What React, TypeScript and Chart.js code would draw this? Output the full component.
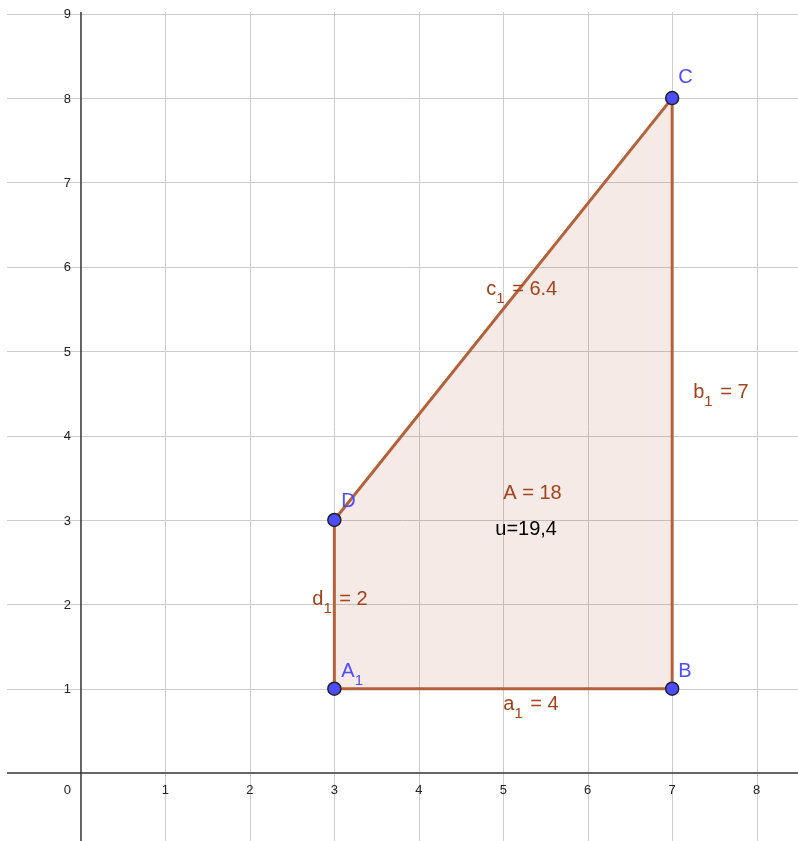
import React, { useEffect, useRef } from 'react';
import { Chart, registerables } from 'chart.js';

Chart.register(...registerables);

// ---- data ----
const pointNames = ['A', 'B', 'C', 'D'];
const pointSubs = ['1', '', '', ''];
const pointX = [3, 7, 7, 3];
const pointY = [1, 1, 8, 3];
const segNames = ['a', 'b', 'c', 'd'];
const segValues = ['4', '7', '6.4', '2'];
const areaText = 'A = 18';
const perimeterText = 'u=19,4';
const xTicks = [0, 1, 2, 3, 4, 5, 6, 7, 8];
const yTicks = [1, 2, 3, 4, 5, 6, 7, 8, 9];

// ---- view / styles ----
const X_MIN = -0.876;
const X_MAX = 8.49;
const Y_MIN = -0.805;
const Y_MAX = 9.02;
const FONT = '"Liberation Sans", Arial, Helvetica, sans-serif';
const BROWN_LINE = '#b5623b';
const BROWN_TEXT = '#a3421b';
const BLUE = '#4d4dff';

// label offsets (pixels) relative to anchors
const pointLabelOffsets: [number, number][] = [[7, -12], [6, -12], [6, -15], [7, -13]];
const segLabelOffsets: [number, number][] = [[0, 21], [21, 5], [-17, -14], [-22, 1]];

type Part = [string, boolean];

function drawRich(ctx: CanvasRenderingContext2D, x: number, y: number, parts: Part[], color: string) {
  let cx = x;
  ctx.fillStyle = color;
  ctx.textAlign = 'left';
  ctx.textBaseline = 'alphabetic';
  for (const [t, sub] of parts) {
    ctx.font = sub ? `15px ${FONT}` : `20px ${FONT}`;
    ctx.fillText(t, cx, sub ? y + 8 : y);
    cx += ctx.measureText(t).width + (sub ? 2 : 0);
  }
}

const geoPlugin = {
  id: 'geoPlugin',
  beforeDatasetsDraw(chart: any) {
    const { ctx, chartArea: ca, scales } = chart;
    const xs = scales.x;
    const ys = scales.y;
    ctx.save();
    ctx.lineWidth = 1;
    ctx.strokeStyle = '#cccccc';
    for (const v of xTicks) {
      if (v === 0) continue;
      const px = Math.round(xs.getPixelForValue(v)) + 0.5;
      ctx.beginPath();
      ctx.moveTo(px, ca.top);
      ctx.lineTo(px, ca.bottom);
      ctx.stroke();
    }
    for (const v of yTicks) {
      const py = Math.round(ys.getPixelForValue(v)) + 0.5;
      ctx.beginPath();
      ctx.moveTo(ca.left, py);
      ctx.lineTo(ca.right, py);
      ctx.stroke();
    }
    // axes
    ctx.strokeStyle = '#333333';
    ctx.lineWidth = 1.5;
    const x0 = xs.getPixelForValue(0);
    const y0 = ys.getPixelForValue(0);
    ctx.beginPath();
    ctx.moveTo(x0, ca.top);
    ctx.lineTo(x0, ca.bottom);
    ctx.stroke();
    ctx.beginPath();
    ctx.moveTo(ca.left, y0);
    ctx.lineTo(ca.right, y0);
    ctx.stroke();

    // tick labels
    ctx.fillStyle = '#222222';
    ctx.font = `13px ${FONT}`;
    ctx.textBaseline = 'middle';
    for (const v of xTicks) {
      if (v === 0) {
        ctx.textAlign = 'right';
        ctx.fillText(String(v), x0 - 10, y0 + 17);
      } else {
        ctx.textAlign = 'center';
        ctx.fillText(String(v), xs.getPixelForValue(v), y0 + 17);
      }
    }
    ctx.textAlign = 'right';
    for (const v of yTicks) {
      ctx.fillText(String(v), x0 - 10, ys.getPixelForValue(v) + 1);
    }
    ctx.restore();
  },
  afterDatasetsDraw(chart: any) {
    const { ctx, scales } = chart;
    const xs = scales.x;
    const ys = scales.y;
    ctx.save();
    // segment labels
    const n = pointX.length;
    for (let i = 0; i < n; i++) {
      const j = (i + 1) % n;
      const mx = xs.getPixelForValue((pointX[i] + pointX[j]) / 2);
      const my = ys.getPixelForValue((pointY[i] + pointY[j]) / 2);
      const [dx, dy] = segLabelOffsets[i];
      drawRich(ctx, mx + dx, my + dy, [[segNames[i], false], ['1', true], [' = ' + segValues[i], false]], BROWN_TEXT);
    }
    // polygon labels
    const ax = xs.getPixelForValue((pointX[0] + pointX[1]) / 2);
    drawRich(ctx, ax, ys.getPixelForValue(3.25), [[areaText, false]], BROWN_TEXT);
    drawRich(ctx, ax - 8, ys.getPixelForValue(2.82), [[perimeterText, false]], '#000000');
    // point labels
    for (let i = 0; i < n; i++) {
      const px = xs.getPixelForValue(pointX[i]);
      const py = ys.getPixelForValue(pointY[i]);
      const [dx, dy] = pointLabelOffsets[i];
      const parts: Part[] = [[pointNames[i], false]];
      if (pointSubs[i]) parts.push([pointSubs[i], true]);
      drawRich(ctx, px + dx, py + dy, parts, BLUE);
    }
    ctx.restore();
  },
};

export default function App() {
  const ref = useRef<HTMLCanvasElement | null>(null);
  useEffect(() => {
    if (!ref.current) return;
    const pts = pointX.map((x, i) => ({ x, y: pointY[i] }));
    const poly = [...pts, pts[0]];
    const chart = new Chart(ref.current, {
      type: 'scatter',
      data: {
        datasets: [
          {
            label: 'points',
            data: pts,
            showLine: false,
            pointRadius: 6.5,
            pointBorderWidth: 1.5,
            pointBackgroundColor: BLUE,
            pointBorderColor: '#222222',
            clip: false,
          } as any,
          {
            label: 'polygon',
            data: poly,
            showLine: true,
            fill: 'shape',
            backgroundColor: 'rgba(153,51,0,0.1)',
            borderColor: BROWN_LINE,
            borderWidth: 3,
            borderJoinStyle: 'round',
            borderCapStyle: 'round',
            pointRadius: 0,
            tension: 0,
          } as any,
        ],
      },
      options: {
        animation: false,
        responsive: false,
        devicePixelRatio: 1,
        events: [],
        layout: { autoPadding: false, padding: { left: 7, top: 12, right: 0, bottom: 0 } },
        scales: {
          x: { type: 'linear', min: X_MIN, max: X_MAX, display: false },
          y: { type: 'linear', min: Y_MIN, max: Y_MAX, display: false },
        },
        plugins: {
          legend: { display: false },
          tooltip: { enabled: false },
        },
      } as any,
      plugins: [geoPlugin],
    });
    return () => chart.destroy();
  }, []);
  return (
    <div style={{ position: 'absolute', left: 0, top: 0, width: 798, height: 841, background: '#ffffff' }}>
      <canvas ref={ref} width={798} height={841} style={{ display: 'block' }} />
    </div>
  );
}
